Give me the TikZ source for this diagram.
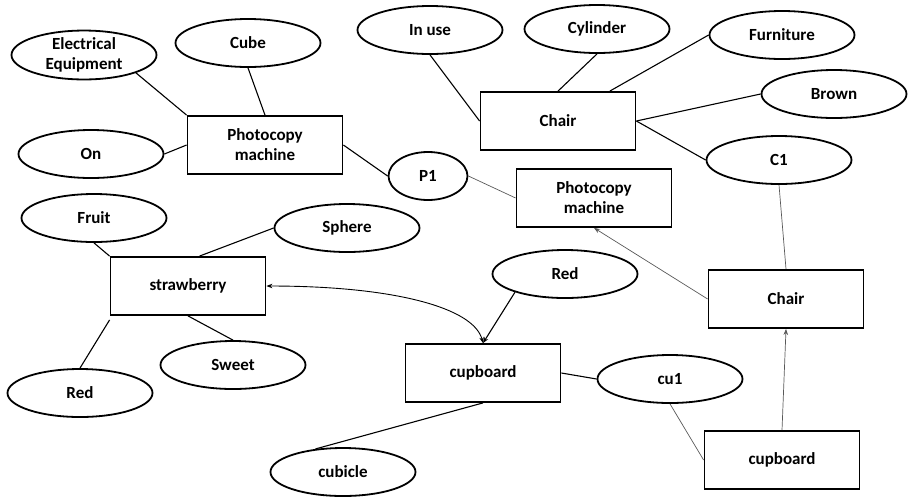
\documentclass[tikz,border=0pt]{standalone}
\usepackage{fontspec}
\setmainfont{Carlito}
\usetikzlibrary{shapes.geometric,arrows.meta}
\begin{document}
\begin{tikzpicture}[x=1pt,y=-1pt,
  attr/.style={ellipse,draw,line width=1.8pt,minimum width=145pt,minimum height=48pt,
    inner sep=0pt,align=center,font=\fontsize{17}{20}\selectfont\bfseries},
  ent/.style={rectangle,draw,line width=1.8pt,minimum width=155pt,minimum height=58pt,
    inner sep=0pt,align=center,font=\fontsize{17}{20}\selectfont\bfseries},
  link/.style={line width=1.1pt},
  thin/.style={line width=0.7pt,draw=black!65},
  tip/.style={-{Stealth[length=6pt,width=4.5pt]}}]
\useasboundingbox (0,0) rectangle (909,499);

% first group: photocopy machine with its attributes
\node[ent]  (pm)    at (265,145) {Photocopy\\machine};
\node[attr] (elec)  at (84,55)   {Electrical\\Equipment};
\node[attr] (cube)  at (248,43)  {Cube};
\node[attr] (on)    at (91,154)  {On};
\node[attr,minimum width=79pt] (p1) at (428,176) {P1};

% chair with its attributes
\node[ent]  (chair) at (558,121) {Chair};
\node[attr] (inuse) at (430,30)  {In use};
\node[attr] (cyl)   at (597,29)  {Cylinder};
\node[attr] (furn)  at (782,35)  {Furniture};
\node[attr] (brown) at (834,94)  {Brown};
\node[attr] (c1)    at (779,160) {C1};

% strawberry with its attributes
\node[ent]  (straw) at (188,286) {strawberry};
\node[attr] (fruit) at (94,218)  {Fruit};
\node[attr] (sphere) at (347,228) {Sphere};
\node[attr] (sweet) at (233,365) {Sweet};
\node[attr] (redl)  at (80,393)  {Red};

% cupboard with its attributes
\node[ent]  (cup)   at (483,373) {cupboard};
\node[attr] (redm)  at (565,274) {Red};
\node[attr] (cu1)   at (670,379) {cu1};
\node[attr] (cubicle) at (343,472) {cubicle};

% instance boxes
\node[ent]  (pm2)    at (594,198) {Photocopy\\machine};
\node[ent]  (chair2) at (786,299) {Chair};
\node[ent]  (cup2)   at (782,460) {cupboard};

% attribute links
\draw[link] (elec.-19) -- (pm.north west);
\draw[link] (cube.south) -- (pm.north);
\draw[link] (on.east) -- (pm.west);
\draw[link] (pm.east) -- (p1.west);

\draw[link] (inuse.south) -- (chair.west);
\draw[link] (cyl.south) -- (chair.north);
\draw[link] (furn.west) -- (chair.30);
\draw[link] (chair.east) -- (brown.west);
\draw[link] (chair.east) -- (c1.west);

\draw[link] (fruit.south) -- (straw.north west);
\draw[link] (sphere.west) -- (straw.69);
\draw[link] ([yshift=-4pt]straw.south west) -- (redl.north);
\draw[link] (straw.south) -- (sweet.north);

\draw[link] (cup.east) -- (cu1.west);
\draw[link] (cup.south) -- (cubicle.140);
\draw[link,tip] (redm.-160) -- (cup.north);
\draw[line width=0.9pt,{Stealth[length=6pt,width=4.5pt]}-{Stealth[length=6pt,width=4.5pt]}]
  (straw.east) .. controls (395,286) and (474,308) .. (cup.north);

% instance links
\draw[thin] (p1.east) -- (pm2.west);
\draw[thin] (c1.south) -- (chair2.north);
\draw[thin,tip] (chair2.west) -- (pm2.south);
\draw[thin] (cu1.south) -- (cup2.west);
\draw[thin,tip] (cup2.north) -- (chair2.south);
\end{tikzpicture}
\end{document}
